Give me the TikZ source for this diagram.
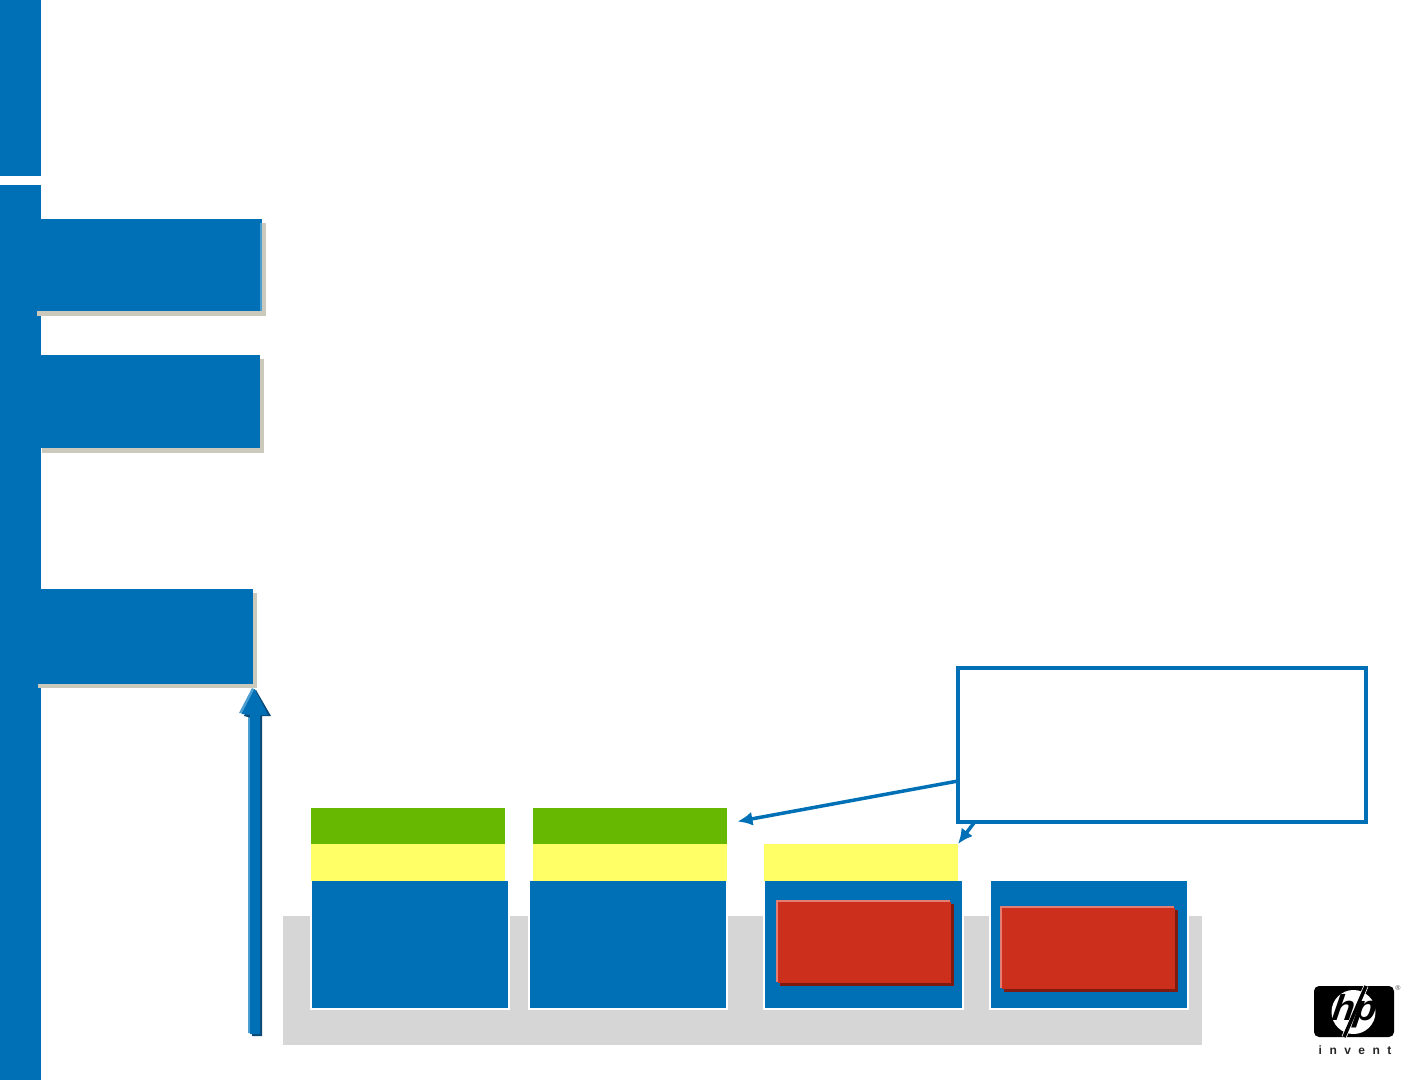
\documentclass[tikz,border=0pt]{standalone}
\usepackage{fontspec}
\setmainfont{Liberation Sans}
\usetikzlibrary{arrows.meta,calc}
\definecolor{hpblue}{HTML}{0070B6}
\definecolor{hplight}{HTML}{4A9FD0}
\definecolor{hpdark}{HTML}{0B4A78}
\definecolor{tabshadow}{HTML}{CBC8BC}
\definecolor{platform}{HTML}{D6D6D6}
\definecolor{leaf}{HTML}{66B800}
\definecolor{lemon}{HTML}{FFFF66}
\definecolor{brick}{HTML}{CC301C}
\definecolor{bricklight}{HTML}{E27E74}
\definecolor{brickdark}{HTML}{7E1A10}
\tikzset{
  x=1pt,y=-1pt,
  plain/.style={inner sep=0pt,outer sep=0pt,draw=none},
  bar/.style={plain,fill=hpblue},
  shade/.style={plain,fill=tabshadow},
  module/.style={inner sep=0pt,outer sep=0pt,fill=hpblue,draw=white,line width=2pt},
  callout/.style={inner sep=0pt,outer sep=0pt,fill=white,draw=hpblue,line width=4pt},
  pointer/.style={draw=hpblue,line width=3.5pt,-{Latex[length=15pt,width=14pt]}},
}
\newcommand{\bx}[6]{%
  \pgfmathsetmacro{\bxw}{(#5)-(#3)}\pgfmathsetmacro{\bxh}{(#6)-(#4)}%
  \pgfmathsetmacro{\bxx}{((#3)+(#5))/2}\pgfmathsetmacro{\bxy}{((#4)+(#6))/2}%
  \node[#1,minimum width=\bxw pt,minimum height=\bxh pt] (#2) at (\bxx,\bxy) {};}
\newcommand{\redblock}[5]{%
  \bx{plain,fill=brickdark}{#1d}{#2+2}{#3+2}{#4+3}{#5+3}
  \bx{plain,fill=bricklight}{#1l}{#2-2}{#3-2}{#4-1}{#5-1}
  \bx{plain,fill=brick}{#1}{#2}{#3}{#4}{#5}}
\begin{document}
\begin{tikzpicture}
\useasboundingbox (0,0) rectangle (1403,1080);
\fill[white] (0,0) rectangle (1403,1080);

% side bar
\bx{bar}{bartop}{0}{0}{41}{176}
\bx{bar}{barmain}{0}{185}{41}{1080}
% tab shadows
\bx{shade}{s1}{37}{223}{266}{316}
\bx{shade}{s2}{42}{359}{264}{453}
\bx{shade}{s3}{38}{593}{257}{688}
% tabs
\bx{plain,fill=hplight}{t1l}{37}{223}{262}{311}
\bx{bar}{t1}{37}{219}{260}{311}
\bx{bar}{t1c}{41}{219}{262}{223}
\bx{bar}{t2}{41}{355}{260}{448}
\bx{bar}{t3}{38}{589}{253}{684}

% rising arrow
\fill[hplight] (248,1033) -- (248,714) -- (239,713) -- (252,688) -- (256,690) -- (256,1033) -- cycle;
\fill[hpdark] (252,1036) -- (252,718) -- (244,716) -- (256,690) -- (271,716) -- (262,716) -- (262,1036) -- cycle;
\fill[hpblue] (250,1034) -- (250,715) -- (241.5,714) -- (254.5,689) -- (268,715) -- (260,715) -- (260,1034) -- cycle;

% platform
\bx{plain,fill=platform}{base}{283}{916}{1202}{1045}
% modules
\bx{module}{m1}{311}{880}{509}{1009}
\bx{module}{m2}{529}{880}{727}{1009}
\bx{module}{m3}{764}{880}{963}{1009}
\bx{module}{m4}{990}{880}{1188}{1009}
% stacked layers
\bx{plain,fill=leaf}{g1}{311}{808}{505}{844}
\bx{plain,fill=leaf}{g2}{533}{808}{727}{844}
\bx{plain,fill=lemon}{y1}{311}{844}{505}{881}
\bx{plain,fill=lemon}{y2}{533}{844}{727}{881}
\bx{plain,fill=lemon}{y3}{764}{844}{958}{881}
% red blocks
\redblock{r1}{778}{902}{951}{983}
\redblock{r2}{1002}{908}{1175}{989}

% callout and pointers
\bx{callout}{note}{958}{667.5}{1366}{821.5}
\coordinate (toGreen) at ($(g2.north east)+(10.5,13.5)$);
\draw[pointer] ($(note.west)+(0,36.5)$) -- (toGreen);
\draw[pointer] ($(note.south west)+(17,0)$) -- (y3.north east);

% logo
\node[plain,fill=black,rounded corners=5pt,minimum width=80pt,minimum height=51pt] (logo) at (1354,1011.5) {};
\node[plain,fill=white,circle,minimum size=44pt] (disc) at (1353.5,1012) {};
\draw[white,line width=5pt] (1344,1037) -- (1366,986);
\draw[black,line width=3.5pt] (1344,1037) -- (1366,986);
\node[plain,text=black,xslant=0.15,font=\bfseries\itshape\fontsize{36}{36}\selectfont] (hp) at (1355,1011) {hp};
\node[plain,font=\fontsize{7}{7}\selectfont,text=black!70] (reg) at (1398,988) {®};
\node[plain,font=\bfseries\fontsize{12}{12}\selectfont\addfontfeatures{LetterSpace=62},text=black!85,anchor=center] (invent) at (1355,1050.5) {invent};
\end{tikzpicture}
\end{document}
